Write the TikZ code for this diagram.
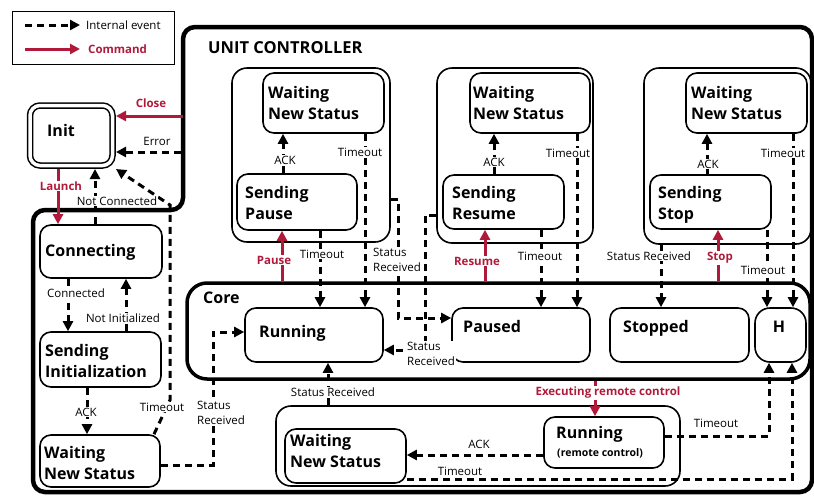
\documentclass[tikz,border=0pt]{standalone}
\usepackage{fontspec}
\setmainfont{Open Sans}
\usetikzlibrary{arrows.meta}
\definecolor{cmdred}{RGB}{176,26,58}
\begin{document}
\begin{tikzpicture}[x=1pt,y=-1pt,
  state/.style={draw, line width=1.6pt, rounded corners=11pt, inner sep=0pt},
  grp/.style={draw, line width=1.6pt, rounded corners=15pt, inner sep=0pt},
  title/.style={font=\bfseries\fontsize{16}{21}\selectfont, align=left, inner sep=0pt, anchor=base west},
  lbl/.style={font=\fontsize{11.5}{15}\selectfont, fill=white, inner sep=1pt},
  cmdlbl/.style={font=\bfseries\fontsize{11.5}{15}\selectfont, text=cmdred, fill=white, inner sep=1pt},
  evt/.style={line width=3pt, dash pattern=on 7pt off 5pt, -{Triangle[length=10pt,width=10pt]}},
  cmd/.style={line width=3pt, draw=cmdred, -{Triangle[length=10pt,width=10pt]}}
]
\useasboundingbox (0,0) rectangle (814,496);

% legend
\node[draw, line width=1pt, minimum width=162, minimum height=53, inner sep=0] (legend) at (93,37.5) {};
\coordinate (lgA) at (25,25); \coordinate (lgB) at (80,25);
\coordinate (lgC) at (25,49); \coordinate (lgD) at (80,49);
\draw[evt] (lgA) -- (lgB);
\draw[cmd] (lgC) -- (lgD);
\node[font=\fontsize{11.5}{15}\selectfont, anchor=west, inner sep=0] (lgEvt) at (86,25) {Internal event};
\node[font=\bfseries\fontsize{11.5}{15}\selectfont, text=cmdred, anchor=west, inner sep=0] (lgCmd) at (88,49) {Command};

% unit controller frame
\draw[line width=4.5pt, rounded corners=12pt] (33,300) -- (33,210) -- (183,210) -- (183,27) -- (812,27) -- (812,492) -- (33,492) -- cycle;
\node[title, font=\bfseries\fontsize{16.5}{21}\selectfont] (ucTitle) at (208,53) {UNIT CONTROLLER};

% init
\node[draw, line width=1.5pt, double=white, double distance=3.5pt, rounded corners=10pt,
      minimum width=82.5, minimum height=60, inner sep=0, outer sep=3.5pt] (init) at (71.25,135.5) {};
\node[title] (initT) at (47,136) {Init};

% left column
\node[state, minimum width=122, minimum height=53] (conn) at (101,251.5) {};
\node[title] (connT) at (45,256) {Connecting};
\node[state, minimum width=121, minimum height=55] (sinit) at (100.5,359.5) {};
\node[title] (sinitT) at (45,377) {Sending\\Initialization};
\node[state, minimum width=120, minimum height=52] (wnsl) at (100,461) {};
\node[title] (wnslT) at (44,479) {Waiting\\New Status};

% pause group
\node[grp, minimum width=158, minimum height=174] (g1) at (311,155) {};
\node[state, minimum width=121, minimum height=60] (wns1) at (323.5,103) {};
\node[title] (wns1T) at (268,119) {Waiting\\New Status};
\node[state, minimum width=120, minimum height=56] (sp) at (297,202) {};
\node[title] (spT) at (245,219) {Sending\\Pause};

% resume group
\node[grp, minimum width=156, minimum height=175] (g2) at (515,155.5) {};
\node[state, minimum width=120, minimum height=60] (wns2) at (530,103) {};
\node[title] (wns2T) at (473,119) {Waiting\\New Status};
\node[state, minimum width=121, minimum height=54] (sr) at (503.5,202) {};
\node[title] (srT) at (452,219) {Sending\\Resume};

% stop group
\node[grp, minimum width=167, minimum height=176] (g3) at (727.5,156) {};
\node[state, minimum width=121, minimum height=60] (wns3) at (746.5,103) {};
\node[title] (wns3T) at (691,119) {Waiting\\New Status};
\node[state, minimum width=121, minimum height=54] (ss) at (710.5,202) {};
\node[title] (ssT) at (658,219) {Sending\\Stop};

% core
\node[draw, line width=3.5pt, rounded corners=20pt, minimum width=623, minimum height=96, inner sep=0] (core) at (498.5,331) {};
\node[title] (coreT) at (203,303) {Core};
\node[state, minimum width=138, minimum height=54] (running) at (314,335) {};
\node[title] (runningT) at (259,337) {Running};
\node[state, minimum width=138, minimum height=54] (paused) at (521,335) {};
\node[title] (pausedT) at (463,332) {Paused};
\node[state, minimum width=139, minimum height=54] (stopped) at (679.5,335) {};
\node[title] (stoppedT) at (623,332) {Stopped};
\node[state, rounded corners=15pt, minimum width=51, minimum height=54] (h) at (780.5,335) {};
\node[title, anchor=base] (hT) at (779,332) {H};

% remote control group
\node[grp, minimum width=404, minimum height=80] (gb) at (478,446) {};
\node[state, minimum width=121, minimum height=54] (wns4) at (345.5,456) {};
\node[title] (wns4T) at (290,467) {Waiting\\New Status};
\node[state, minimum width=120, minimum height=51] (rc) at (604,442.5) {};
\node[title] (rcT) at (556,438) {Running};
\node[font=\bfseries\fontsize{10.5}{13}\selectfont, anchor=base west, inner sep=0] (rcS) at (557,456) {(remote control)};

% frame-level transitions
\coordinate (ucClose) at (183,116);
\coordinate (ucErr) at (181,152);
\draw[cmd] (ucClose) -- (ucClose -| init.east);
\draw[evt] (ucErr) -- (ucErr -| init.east);
\draw[cmd] (58,0 |- init.south) -- (58,0 |- conn.north);
\draw[evt] (95,0 |- conn.north) -- (95,0 |- init.south);
\draw[evt] (154,0 |- wnsl.north) -- (170,400) -- (170,205) -- (init.south east);
\draw[evt] (68,0 |- conn.south) -- (68,0 |- sinit.north);
\draw[evt] (126,0 |- sinit.north) -- (126,0 |- conn.south);
\draw[evt] (87,0 |- sinit.south) -- (87,0 |- wnsl.north);
\draw[evt] (wnsl.east |- 0,465) -- (213,465) -- (213,332) -- (running.west |- 0,332);

% pause group transitions
\draw[evt] (283,0 |- sp.north) -- (283,0 |- wns1.south);
\draw[evt] (365,0 |- wns1.south) -- (365,0 |- running.north);
\draw[evt] (320,0 |- sp.south) -- (320,0 |- running.north);
\draw[cmd] (282,0 |- core.north) -- (282,0 |- sp.south);
\draw[evt] (g1.east |- 0,199) -- (398,199) -- (398,318) -- (paused.west |- 0,318);

% resume group transitions
\draw[evt] (494,0 |- sr.north) -- (494,0 |- wns2.south);
\draw[evt] (577,0 |- wns2.south) -- (577,0 |- paused.north);
\draw[evt] (541,0 |- sr.south) -- (541,0 |- paused.north);
\draw[cmd] (485,0 |- core.north) -- (485,0 |- sr.south);
\draw[evt] (g2.west |- 0,215) -- (425,215) -- (425,350) -- (running.east |- 0,350);

% stop group transitions
\draw[evt] (707,0 |- ss.north) -- (707,0 |- wns3.south);
\draw[evt] (793,0 |- wns3.south) -- (793,0 |- h.north);
\draw[evt] (767,0 |- ss.south) -- (767,0 |- h.north);
\draw[cmd] (718,0 |- core.north) -- (718,0 |- ss.south);
\draw[evt] (661,0 |- g3.south) -- (661,0 |- stopped.north);

% remote control transitions
\draw[cmd] (595,0 |- core.south) -- (595,0 |- rc.north);
\draw[evt] (328,0 |- gb.north) -- (328,0 |- running.south);
\draw[evt] (rc.west |- 0,455) -- (wns4.east |- 0,455);
\draw[evt] (rc.east |- 0,436) -- (769,436) -- (769,0 |- h.south);
\draw[evt] (wns4.east |- 0,479) -- (792,479) -- (792,0 |- h.south);

% labels
\node[cmdlbl, fill=none] (lClose) at (151,103) {Close};
\node[lbl] (lErr) at (157,141) {Error};
\node[cmdlbl] (lLaunch) at (61,186) {Launch};
\node[lbl] (lNotConn) at (117,201) {Not Connected};
\node[lbl] (lConn) at (76,293) {Connected};
\node[lbl] (lNotInit) at (123,318) {Not Initialized};
\node[lbl] (lAckL) at (86,412) {ACK};
\node[lbl] (lToL) at (162,407) {Timeout};
\node[lbl, align=left] (lSrL) at (221,413) {Status\\Received};

\node[lbl] (lAck1) at (285,160) {ACK};
\node[lbl] (lTo1a) at (360,152) {Timeout};
\node[lbl] (lTo1b) at (322,254) {Timeout};
\node[lbl, align=left] (lSr1) at (397,260) {Status\\Received};
\node[cmdlbl] (lPause) at (274,260) {Pause};

\node[lbl] (lAck2) at (494,162) {ACK};
\node[lbl] (lTo2a) at (568,153) {Timeout};
\node[lbl] (lTo2b) at (540,256) {Timeout};
\node[cmdlbl] (lResume) at (477,261) {Resume};
\node[lbl, align=left] (lSr2) at (431,354) {Status\\Received};

\node[lbl] (lAck3) at (708,164) {ACK};
\node[lbl] (lTo3a) at (783,153) {Timeout};
\node[lbl] (lSr3) at (649,256) {Status Received};
\node[cmdlbl] (lStop) at (720,258) {Stop};
\node[lbl] (lTo3b) at (763,270) {Timeout};

\node[cmdlbl] (lExec) at (608,393) {Executing remote control};
\node[lbl] (lSrB) at (333,392) {Status Received};
\node[lbl] (lAckB) at (479,444) {ACK};
\node[lbl] (lToBa) at (716,423) {Timeout};
\node[lbl] (lToBb) at (460,471) {Timeout};
\end{tikzpicture}
\end{document}
